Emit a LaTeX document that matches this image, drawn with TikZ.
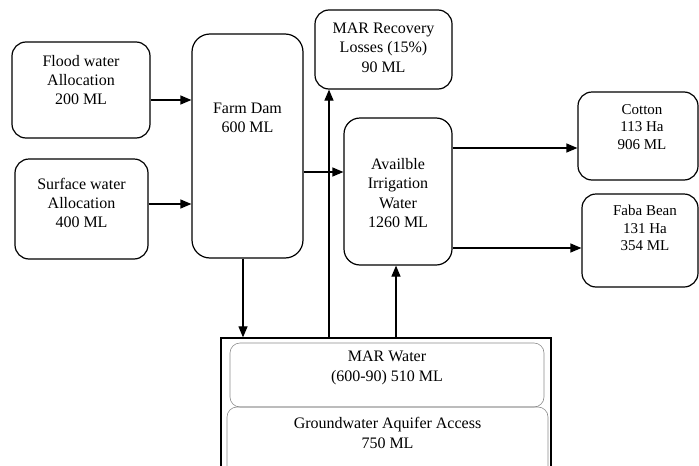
\documentclass[tikz,border=0pt]{standalone}
\usepackage{fontspec}
\setmainfont{Liberation Serif}
\usetikzlibrary{arrows.meta}

\begin{document}
\begin{tikzpicture}[x=1pt,y=-1pt,>={Triangle[length=11pt,width=9pt]},line width=1.2pt,
                main node/.style={draw,rounded corners=14pt,inner sep=0pt},
                sub node/.style={draw=black!45,line width=0.6pt,rounded corners=10pt,inner sep=0pt},
                txt/.style={font=\fontsize{16}{19.3}\selectfont,align=center,inner sep=0pt},
                small txt/.style={font=\fontsize{15}{17.5}\selectfont,align=center,inner sep=0pt}]
  \useasboundingbox (0,0) rectangle (699,466);
  \clip (0,0) rectangle (699,466);

  % sources
  \node[main node, minimum width=138pt, minimum height=96pt,
        label={[txt,yshift=10pt]center:Flood water\\Allocation\\200 ML}] (flood) at (81,90) {};
  \node[main node, minimum width=133pt, minimum height=100pt,
        label={[txt,yshift=6pt]center:Surface water\\Allocation\\400 ML}] (surface) at (81.5,209) {};
  \node[main node, rounded corners=18pt, minimum width=111pt, minimum height=224pt,
        label={[txt,yshift=28.5pt]center:Farm Dam\\600 ML}] (farm) at (247.5,146) {};
  \node[main node, minimum width=137pt, minimum height=79pt,
        label={[txt,yshift=2pt]center:MAR Recovery\\Losses (15\%)\\90 ML}] (recovery) at (383.5,49.5) {};
  \node[main node, rounded corners=16pt, minimum width=108pt, minimum height=147pt,
        label={[txt,yshift=-1.5pt]center:Availble\\Irrigation\\Water\\1260 ML}] (avail) at (398,191.5) {};

  % crops
  \node[main node, minimum width=120pt, minimum height=88pt,
        label={[small txt,xshift=4pt,yshift=9pt]center:Cotton\\113 Ha\\906 ML}] (cotton) at (638,136) {};
  \node[main node, minimum width=116pt, minimum height=93pt,
        label={[small txt,xshift=5pt,yshift=12.5pt]center:Faba Bean\\131 Ha\\354 ML}] (faba) at (640,240.5) {};

  % aquifer
  \node[draw, line width=1.3pt, minimum width=330pt, minimum height=164pt, inner sep=0pt] (aquifer) at (386,420) {};
  \node[sub node, minimum width=314pt, minimum height=64pt,
        label={[txt,yshift=7pt]center:MAR Water\\(600-90) 510 ML}] (marwater) at (387,375) {};
  \node[sub node, minimum width=321pt, minimum height=96pt,
        label={[txt,yshift=22pt]center:Groundwater Aquifer Access\\750 ML}] (groundwater) at (387.5,455) {};

  \draw[->] ([yshift=-10pt]flood.east) -- ([yshift=-10pt]flood.east -| farm.west);
  \draw[->] ([yshift=5pt]surface.east) -- ([yshift=5pt]surface.east -| farm.west);
  \draw[->] ([yshift=-26pt]farm.east) -- ([yshift=-26pt]farm.east -| avail.west);
  \draw[->] ([xshift=-4.5pt]farm.south) -- ([xshift=-4.5pt]farm.south |- aquifer.north);
  \draw[->] ([xshift=-54.5pt]recovery.south |- aquifer.north) -- ([xshift=-54.5pt]recovery.south);
  \draw[->] ([xshift=-2pt]avail.south |- aquifer.north) -- ([xshift=-2pt]avail.south);
  \draw[->] ([yshift=43.5pt]avail.east) -- ([yshift=43.5pt]avail.east -| cotton.west);
  \draw[->] ([yshift=-56.5pt]avail.east) -- ([yshift=-56.5pt]avail.east -| faba.west);
\end{tikzpicture}
\end{document}
